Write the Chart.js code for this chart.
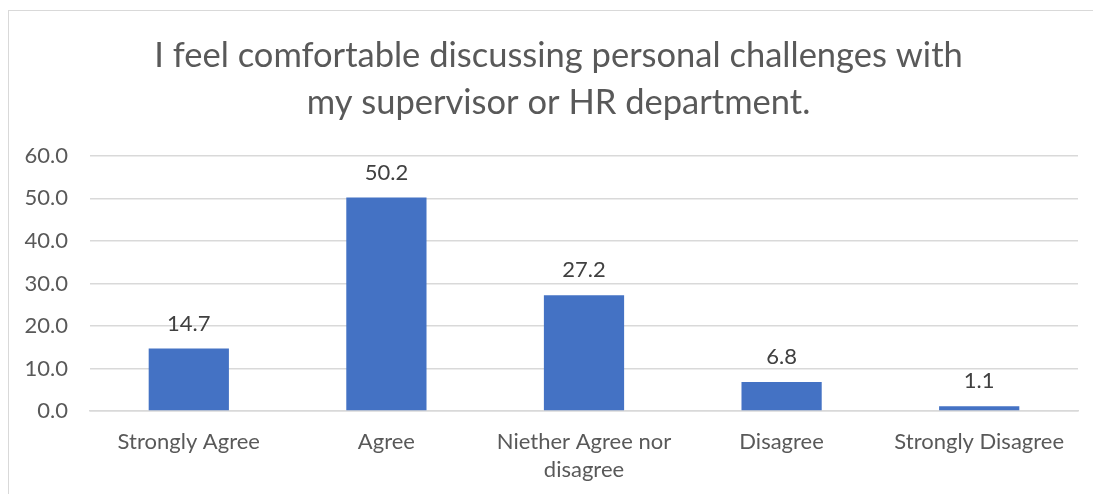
<!DOCTYPE html>
<html lang="en">
<head>
    <meta charset="UTF-8">
    <title>Personal challenges</title>
    <script src="https://cdn.jsdelivr.net/npm/chart.js"></script>
    <style>
        body { margin: 0; background: #fff; overflow: hidden; }
        .frame {
            position: absolute;
            left: 8px;
            top: 10px;
            width: 1100px;
            height: 500px;
            border: 1px solid #d9d9d9;
            background: #fff;
        }
        .frame canvas { display: block; }
    </style>
</head>
<body>
    <div class="frame">
        <canvas id="chart" width="1085" height="483" style="width:1085px;height:483px"></canvas>
    </div>

    <script>
        const titleLines = ['I feel comfortable discussing personal challenges with', 'my supervisor or HR department.'];
        const categories = [
            'Strongly Agree',
            'Agree',
            ['Niether Agree nor', 'disagree'],
            'Disagree',
            'Strongly Disagree'
        ];
        const percentages = [14.7, 50.2, 27.2, 6.8, 1.1];
        const yTicks = [0, 10, 20, 30, 40, 50, 60];

        const fontFamily = 'Lato, "Open Sans", sans-serif';

        // etiquetas de valor encima de cada barra
        const valueLabels = {
            id: 'valueLabels',
            afterDatasetsDraw(chart) {
                const ctx = chart.ctx;
                const meta = chart.getDatasetMeta(0);
                ctx.save();
                ctx.font = '22px ' + fontFamily;
                ctx.fillStyle = '#404040';
                ctx.textAlign = 'center';
                ctx.textBaseline = 'middle';
                meta.data.forEach((bar, i) => {
                    ctx.fillText(percentages[i].toFixed(1), bar.x, bar.y - 25);
                });
                ctx.restore();
            }
        };

        // el titulo va centrado en el marco completo (que sigue mas alla de la ventana)
        const shiftTitle = {
            id: 'shiftTitle',
            afterLayout(chart) {
                if (chart.titleBlock) {
                    chart.titleBlock.left += 15;
                    chart.titleBlock.right += 15;
                }
            }
        };

        new Chart(document.getElementById('chart'), {
            type: 'bar',
            data: {
                labels: categories,
                datasets: [{
                    data: percentages,
                    backgroundColor: '#4472C4',
                    borderWidth: 0,
                    categoryPercentage: 1,
                    barPercentage: 0.406
                }]
            },
            options: {
                responsive: false,
                animation: false,
                layout: { padding: { top: 21, right: 16, left: 0, bottom: 0 } },
                plugins: {
                    legend: { display: false },
                    tooltip: { enabled: false },
                    title: {
                        display: true,
                        text: titleLines,
                        color: '#595959',
                        font: { family: fontFamily, size: 34.5, weight: 'normal', lineHeight: 1.36 },
                        padding: { top: 0, bottom: 30 }
                    }
                },
                scales: {
                    x: {
                        grid: { display: false, drawTicks: false },
                        border: { display: true, color: '#d9d9d9', width: 1.5 },
                        ticks: {
                            color: '#595959',
                            font: { family: fontFamily, size: 22, lineHeight: 1.27 },
                            padding: 17,
                            maxRotation: 0,
                            autoSkip: false
                        },
                        afterFit(scale) { scale.height = 83; }
                    },
                    y: {
                        min: 0,
                        max: 60,
                        afterBuildTicks(scale) {
                            scale.ticks = yTicks.map(v => ({ value: v }));
                        },
                        grid: { color: '#d9d9d9', lineWidth: 1.5, drawTicks: false },
                        border: { display: false },
                        ticks: {
                            color: '#595959',
                            font: { family: fontFamily, size: 22 },
                            padding: 22,
                            callback: v => Number(v).toFixed(1)
                        },
                        afterFit(scale) { scale.width = 81; }
                    }
                }
            },
            plugins: [valueLabels, shiftTitle]
        });
    </script>
</body>
</html>
